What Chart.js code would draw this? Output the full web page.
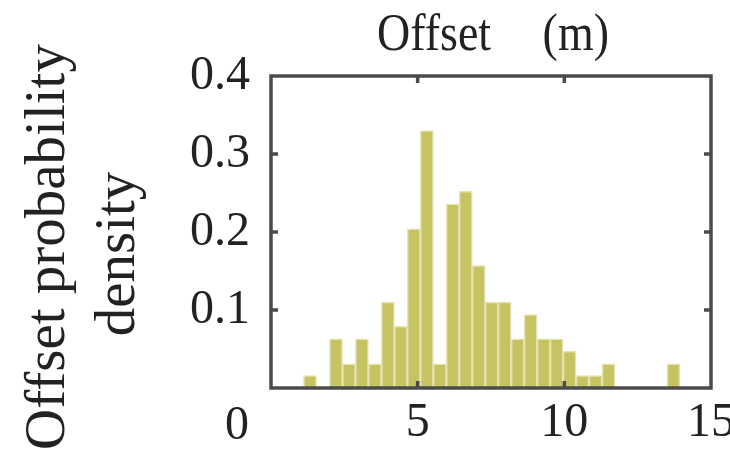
<!DOCTYPE html>
<html>
<head>
<meta charset="utf-8">
<script src="https://cdn.jsdelivr.net/npm/chart.js@4/dist/chart.umd.min.js"></script>
<style>
  html, body { margin: 0; padding: 0; background: #ffffff; }
  #wrap { width: 730px; height: 451px; }
</style>
</head>
<body>
<div id="wrap"><canvas id="c" width="730" height="451"></canvas></div>
<script>
// ---- data ----
const binCenters = [1.330, 2.215, 2.658, 3.100, 3.543, 3.985, 4.428, 4.870, 5.313, 5.755,
                    6.198, 6.640, 7.083, 7.525, 7.968, 8.410, 8.853, 9.295, 9.738, 10.180,
                    10.623, 11.065, 11.508, 13.720];
const density    = [0.016, 0.063, 0.031, 0.063, 0.031, 0.110, 0.079, 0.204, 0.330, 0.031,
                    0.236, 0.252, 0.157, 0.110, 0.110, 0.063, 0.094, 0.063, 0.063, 0.047,
                    0.016, 0.016, 0.031, 0.031];
const xTickLabels = ['0', '5', '10', '15'];
const yTickLabels = ['0', '0.1', '0.2', '0.3', '0.4'];
const titleText = 'Offset (m)';
const yTitleLines = ['Offset probability', 'density'];

const TEXT = '#222222';
const AXIS = '#4b4b4b';
const FONT = '"Liberation Serif", "Times New Roman", serif';

const points = binCenters.map((x, i) => ({ x: x, y: density[i] }));

const decorPlugin = {
  id: 'decor',
  afterDatasetsDraw(chart) {
    const ctx = chart.ctx;
    const a = chart.chartArea;
    const xs = chart.scales.x, ys = chart.scales.y;
    ctx.save();
    // frame
    ctx.strokeStyle = AXIS;
    ctx.lineWidth = 3.5;
    ctx.strokeRect(a.left, a.top, a.right - a.left, a.bottom - a.top);
    // inward ticks
    ctx.lineWidth = 3.5;
    const tl = 7;
    [5, 10].forEach(v => {
      const px = xs.getPixelForValue(v);
      ctx.beginPath();
      ctx.moveTo(px, a.bottom); ctx.lineTo(px, a.bottom - tl);
      ctx.moveTo(px, a.top); ctx.lineTo(px, a.top + tl);
      ctx.stroke();
    });
    [0.1, 0.2, 0.3].forEach(v => {
      const py = ys.getPixelForValue(v);
      ctx.beginPath();
      ctx.moveTo(a.left, py); ctx.lineTo(a.left + tl, py);
      ctx.moveTo(a.right, py); ctx.lineTo(a.right - tl, py);
      ctx.stroke();
    });
    ctx.restore();
  },
  afterDraw(chart) {
    const ctx = chart.ctx;
    const a = chart.chartArea;
    ctx.save();
    ctx.fillStyle = TEXT;
    // title
    ctx.save();
    ctx.font = '46px ' + FONT;
    ctx.textAlign = 'center';
    ctx.textBaseline = 'alphabetic';
    try { ctx.wordSpacing = '40px'; } catch (e) {}
    ctx.translate((a.left + a.right) / 2 + 2, 50);
    ctx.scale(1, 1.15);
    ctx.fillText(titleText, 0, 0);
    ctx.restore();
    // y-axis title (two lines, rotated)
    ctx.save();
    ctx.font = '57px ' + FONT;
    ctx.textAlign = 'center';
    ctx.textBaseline = 'alphabetic';
    ctx.translate(64, 247);
    ctx.rotate(-Math.PI / 2);
    ctx.fillText(yTitleLines[0], 0, 0);
    ctx.restore();
    ctx.save();
    ctx.font = '57px ' + FONT;
    ctx.textAlign = 'center';
    ctx.textBaseline = 'alphabetic';
    ctx.translate(134, 254);
    ctx.rotate(-Math.PI / 2);
    ctx.fillText(yTitleLines[1], 0, 0);
    ctx.restore();
    // the lone "0" label sitting in the x-label row
    ctx.font = '48px ' + FONT;
    ctx.textAlign = 'right';
    ctx.textBaseline = 'middle';
    ctx.fillText(yTickLabels[0], a.left - 22, 426);
    ctx.restore();
  }
};

Chart.defaults.font.family = FONT;

new Chart(document.getElementById('c'), {
  type: 'bar',
  data: {
    datasets: [{
      data: points,
      backgroundColor: 'rgb(198,195,99)',
      borderColor: 'rgb(228,226,176)',
      borderWidth: 1.5,
      borderSkipped: 'start',
      barPercentage: 1.0,
      categoryPercentage: 1.0
    }]
  },
  options: {
    responsive: false,
    animation: false,
    events: [],
    layout: { padding: { top: 76, right: 19, left: 0, bottom: 0 } },
    plugins: {
      legend: { display: false },
      title: { display: false },
      tooltip: { enabled: false }
    },
    scales: {
      x: {
        type: 'linear',
        min: 0, max: 15,
        offset: false,
        grid: { display: false, drawTicks: false },
        border: { display: false },
        ticks: {
          stepSize: 5,
          padding: 7,
          color: TEXT,
          font: { size: 48, family: FONT },
          maxRotation: 0,
          autoSkip: false,
          callback: (v) => {
            const i = Math.round(v / 5);
            return i === 0 ? '' : xTickLabels[i];
          }
        },
        afterFit: (s) => { s.height = 63; s.paddingLeft = 0; s.paddingRight = 0; }
      },
      y: {
        min: 0, max: 0.4,
        grid: { display: false, drawTicks: false },
        border: { display: false },
        ticks: {
          stepSize: 0.1,
          padding: 21,
          color: TEXT,
          font: { size: 48, family: FONT },
          callback: (v) => {
            const i = Math.round(v * 10);
            return i === 0 ? '' : yTickLabels[i];
          }
        },
        afterFit: (s) => { s.width = 271; s.paddingTop = 0; s.paddingBottom = 0; }
      }
    }
  },
  plugins: [decorPlugin]
});
</script>
</body>
</html>
